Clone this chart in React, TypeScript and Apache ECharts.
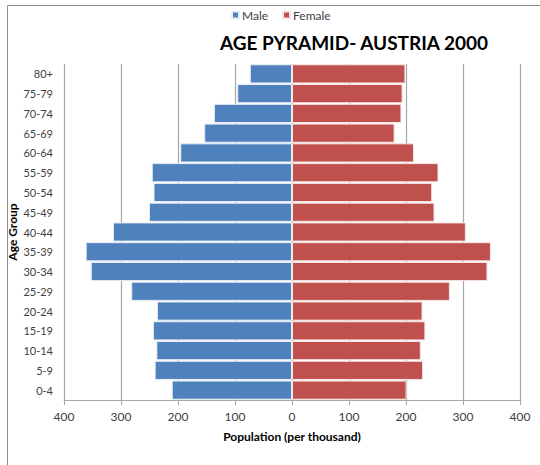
import React, { useEffect, useRef } from "react";
import * as echarts from "echarts";

const ageGroups = ["0-4", "5-9", "10-14", "15-19", "20-24", "25-29", "30-34", "35-39", "40-44", "45-49", "50-54", "55-59", "60-64", "65-69", "70-74", "75-79", "80+"];
const maleValues = [211, 241, 238, 244, 237, 282, 353, 362, 314, 251, 243, 246, 196, 154, 137, 96, 74];
const femaleValues = [201, 230, 226, 234, 229, 277, 343, 349, 305, 250, 246, 257, 214, 180, 192, 194, 199];
const xTicks = [-400, -300, -200, -100, 0, 100, 200, 300, 400];

const FONT = "Lato, 'Open Sans', sans-serif";

export default function App() {
  const ref = useRef<HTMLDivElement>(null);
  useEffect(() => {
    document.body.style.margin = "0";
    const chart = echarts.init(ref.current!, null, { renderer: "svg" });
    chart.setOption({
      animation: false,
      textStyle: { fontFamily: FONT },
      graphic: [
        {
          type: "rect",
          shape: { x: 7.5, y: 5.5, width: 700, height: 700 },
          style: { fill: "none", stroke: "#8c8c8c", lineWidth: 1 },
          silent: true,
          z: 100,
        },
      ],
      title: {
        text: "AGE PYRAMID- AUSTRIA 2000",
        left: 349,
        textAlign: "center",
        top: 28,
        textStyle: { fontFamily: FONT, fontWeight: "bold", fontSize: 19, color: "#000" },
      },
      legend: {
        data: ["Male", "Female"],
        top: 4,
        left: 226,
        itemWidth: 7,
        itemHeight: 7,
        itemGap: 14,
        icon: "rect",
        textStyle: { fontFamily: FONT, fontSize: 12, color: "#404040", padding: [0, 0, 0, -2] },
      },
      grid: { left: 64, right: 20, top: 64, bottom: 65, containLabel: false, outerBoundsMode: "none" },
      xAxis: {
        type: "value",
        min: -400,
        max: 400,
        interval: 100,
        name: "Population (per thousand)",
        nameLocation: "middle",
        nameGap: 30,
        nameMoveOverlap: false,
        nameTextStyle: { fontFamily: FONT, fontWeight: "bold", fontSize: 12, color: "#000" },
        axisLine: { show: true, lineStyle: { color: "#a6a6a6" } },
        axisTick: { show: true, length: 5, lineStyle: { color: "#a6a6a6" } },
        axisLabel: {
          fontFamily: FONT,
          fontSize: 12,
          color: "#404040",
          margin: 10,
          formatter: (v: number) => (xTicks.includes(v) ? String(Math.abs(v)) : ""),
        },
        splitLine: { show: true, lineStyle: { color: "#a6a6a6", width: 1.2 } },
      },
      yAxis: {
        type: "category",
        data: ageGroups,
        name: "Age Group",
        nameLocation: "middle",
        nameGap: 46,
        nameRotate: 90,
        nameMoveOverlap: false,
        nameTextStyle: { fontFamily: FONT, fontWeight: "bold", fontSize: 12, color: "#000" },
        axisLine: { show: false },
        axisTick: { show: false },
        axisLabel: { fontFamily: FONT, fontSize: 11, color: "#404040", margin: 11 },
      },
      series: [
        {
          name: "Male",
          type: "bar",
          stack: "pop",
          data: maleValues.map((v) => -v),
          barCategoryGap: "3%",
          itemStyle: { color: "#4F81BD", borderColor: "#e8eef6", borderWidth: 1 },
        },
        {
          name: "Female",
          type: "bar",
          stack: "pop",
          data: femaleValues,
          barCategoryGap: "3%",
          itemStyle: { color: "#C0504D", borderColor: "#f6e6e6", borderWidth: 1 },
        },
      ],
    });
    return () => chart.dispose();
  }, []);
  return <div ref={ref} style={{ width: 540, height: 465 }} />;
}
